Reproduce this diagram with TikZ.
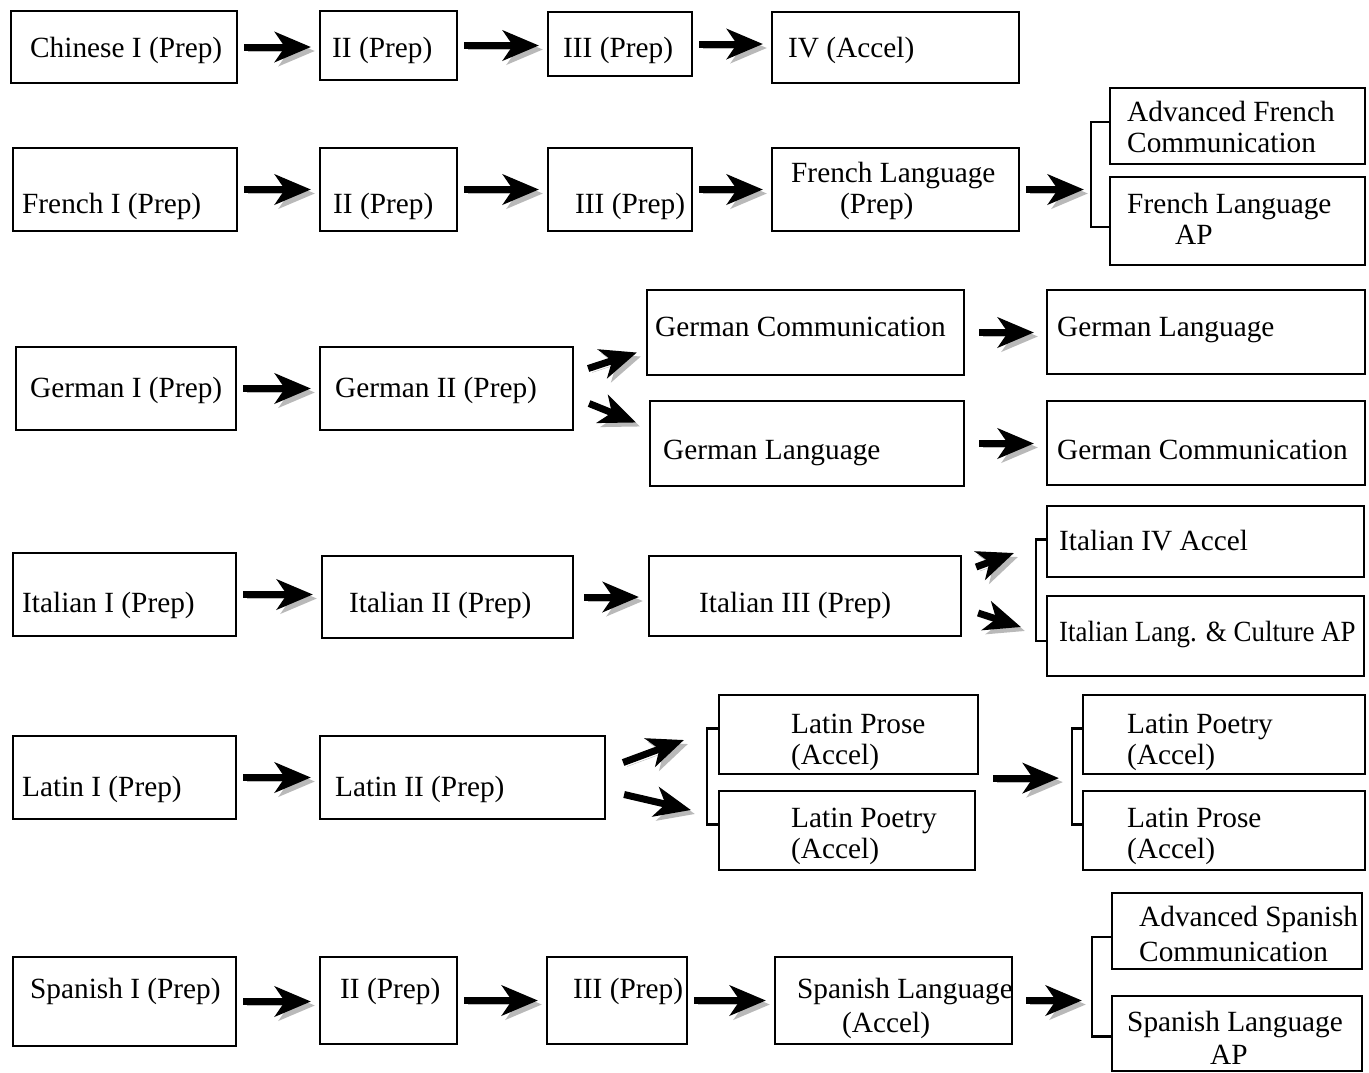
\documentclass[tikz,border=0pt]{standalone}
\usepackage{fontspec}
\setmainfont{Liberation Serif}
\usepackage{graphicx}
\usetikzlibrary{arrows.meta}
\begin{document}
\begin{tikzpicture}[x=1pt, y=-1pt,
  box/.style={draw, line width=2.2pt, inner sep=0pt},
  txt/.style={anchor=base west, inner sep=0pt, font=\fontsize{29.3}{31}\selectfont},
  flow/.style={line width=7pt, -{Stealth[length=36pt, width=30pt, inset=10pt]},
    shorten <=6pt, shorten >=8pt,
    preaction={draw=gray!55, transform canvas={shift={(4pt,-4pt)}}}},
  brace/.style={line width=2.8pt}]

  \useasboundingbox (0,0) rectangle (1369,1072);

  % Chinese row
  \node[box, minimum width=226pt, minimum height=72pt] (C1) at (124,47) {};
  \node[box, minimum width=137pt, minimum height=69pt] (C2) at (388.5,45.5) {};
  \node[box, minimum width=144pt, minimum height=64pt] (C3) at (620,44) {};
  \node[box, minimum width=247pt, minimum height=71pt] (C4) at (895.5,47.5) {};
  \node[txt] (C1t) at (30,57) {Chinese I (Prep)};
  \node[txt] (C2t) at (332,57) {II (Prep)};
  \node[txt] (C3t) at (563,57) {III (Prep)};
  \node[txt] (C4t) at (788,57) {IV (Accel)};

  % French row
  \node[box, minimum width=224pt, minimum height=83pt] (F1) at (125,189.5) {};
  \node[box, minimum width=137pt, minimum height=83pt] (F2) at (388.5,189.5) {};
  \node[box, minimum width=144pt, minimum height=83pt] (F3) at (620,189.5) {};
  \node[box, minimum width=247pt, minimum height=83pt] (F4) at (895.5,189.5) {};
  \node[box, minimum width=255pt, minimum height=76pt] (F5) at (1237.5,126) {};
  \node[box, minimum width=255pt, minimum height=88pt] (F6) at (1237.5,221) {};
  \node[txt] (F1t) at (22,213) {French I (Prep)};
  \node[txt] (F2t) at (333,213) {II (Prep)};
  \node[txt] (F3t) at (575,213) {III (Prep)};
  \node[txt] (F4t) at (791,182) {French Language};
  \node[txt] (F4u) at (840,213) {(Prep)};
  \node[txt] (F5t) at (1127,121) {Advanced French};
  \node[txt] (F5u) at (1127,152) {Communication};
  \node[txt] (F6t) at (1127,213) {French Language};
  \node[txt] (F6u) at (1175,244) {AP};

  % German row
  \node[box, minimum width=220pt, minimum height=83pt] (G1) at (126,388.5) {};
  \node[box, minimum width=253pt, minimum height=83pt] (G2) at (446.5,388.5) {};
  \node[box, minimum width=317pt, minimum height=85pt] (G3) at (805.5,332.5) {};
  \node[box, minimum width=314pt, minimum height=85pt] (G4) at (807,443.5) {};
  \node[box, minimum width=318pt, minimum height=84pt] (G5) at (1206,332) {};
  \node[box, minimum width=318pt, minimum height=84pt] (G6) at (1206,443) {};
  \node[txt] (G1t) at (30,397) {German I (Prep)};
  \node[txt] (G2t) at (335,397) {German II (Prep)};
  \node[txt] (G3t) at (655,336) {German Communication};
  \node[txt] (G4t) at (663,459) {German Language};
  \node[txt] (G5t) at (1057,336) {German Language};
  \node[txt] (G6t) at (1057,459) {German Communication};

  % Italian row
  \node[box, minimum width=223pt, minimum height=83pt] (I1) at (124.5,594.5) {};
  \node[box, minimum width=251pt, minimum height=82pt] (I2) at (447.5,597) {};
  \node[box, minimum width=312pt, minimum height=80pt] (I3) at (805,596) {};
  \node[box, minimum width=317pt, minimum height=71pt] (I4) at (1205.5,541.5) {};
  \node[box, minimum width=317pt, minimum height=80pt] (I5) at (1205.5,636) {};
  \node[txt] (I1t) at (22,612) {Italian I (Prep)};
  \node[txt] (I2t) at (349,612) {Italian II (Prep)};
  \node[txt] (I3t) at (699,612) {Italian III (Prep)};
  \node[txt] (I4t) at (1059,550) {Italian IV Accel};
  \node[txt] (I5t) at (1059,641) {\scalebox{0.92}[1]{Italian Lang. \& Culture AP}};

  % Latin row
  \node[box, minimum width=223pt, minimum height=83pt] (L1) at (124.5,777.5) {};
  \node[box, minimum width=285pt, minimum height=83pt] (L2) at (462.5,777.5) {};
  \node[box, minimum width=259pt, minimum height=79pt] (L3) at (848.5,734.5) {};
  \node[box, minimum width=256pt, minimum height=79pt] (L4) at (847,830.5) {};
  \node[box, minimum width=282pt, minimum height=79pt] (L5) at (1224,734.5) {};
  \node[box, minimum width=282pt, minimum height=79pt] (L6) at (1224,830.5) {};
  \node[txt] (L1t) at (22,796) {Latin I (Prep)};
  \node[txt] (L2t) at (335,796) {Latin II (Prep)};
  \node[txt] (L3t) at (791,733) {Latin Prose};
  \node[txt] (L3u) at (791,764) {(Accel)};
  \node[txt] (L4t) at (791,827) {Latin Poetry};
  \node[txt] (L4u) at (791,858) {(Accel)};
  \node[txt] (L5t) at (1127,733) {Latin Poetry};
  \node[txt] (L5u) at (1127,764) {(Accel)};
  \node[txt] (L6t) at (1127,827) {Latin Prose};
  \node[txt] (L6u) at (1127,858) {(Accel)};

  % Spanish row
  \node[box, minimum width=223pt, minimum height=89pt] (S1) at (124.5,1001.5) {};
  \node[box, minimum width=137pt, minimum height=87pt] (S2) at (388.5,1000.5) {};
  \node[box, minimum width=140pt, minimum height=87pt] (S3) at (617,1000.5) {};
  \node[box, minimum width=237pt, minimum height=87pt] (S4) at (893.5,1000.5) {};
  \node[box, minimum width=250pt, minimum height=76pt] (S5) at (1237,931) {};
  \node[box, minimum width=250pt, minimum height=75pt] (S6) at (1237,1033.5) {};
  \node[txt] (S1t) at (30,998) {Spanish I (Prep)};
  \node[txt] (S2t) at (340,998) {II (Prep)};
  \node[txt] (S3t) at (573,998) {III (Prep)};
  \node[txt] (S4t) at (797,998) {Spanish Language};
  \node[txt] (S4u) at (842,1032) {(Accel)};
  \node[txt] (S5t) at (1139,926) {Advanced Spanish};
  \node[txt] (S5u) at (1139,961) {Communication};
  \node[txt] (S6t) at (1127,1031) {Spanish Language};
  \node[txt] (S6u) at (1210,1064) {AP};

  % Brackets
  \draw[brace] ([yshift=4pt]F5.west) -- ++(-18,0) coordinate (Fb) |- ([yshift=-6pt]F6.west);
  \draw[brace] ([yshift=2pt]I4.west) -- ++(-10,0) coordinate (Ib) |- ([yshift=-5pt]I5.west);
  \draw[brace] ([yshift=6pt]L3.west) -- ++(-11,0) coordinate (Lb1) |- ([yshift=6pt]L4.west);
  \draw[brace] ([yshift=6pt]L5.west) -- ++(-10,0) coordinate (Lb2) |- ([yshift=6pt]L6.west);
  \draw[brace] ([yshift=-6pt]S5.west) -- ++(-19,0) coordinate (Sb) |- ([yshift=-3pt]S6.west);

  % Horizontal arrows
  \draw[flow] (C1.east) -- (C1.east -| C2.west);
  \draw[flow] (C2.east) -- (C2.east -| C3.west);
  \draw[flow] (C3.east) -- (C3.east -| C4.west);
  \draw[flow] (F1.east) -- (F1.east -| F2.west);
  \draw[flow] (F2.east) -- (F2.east -| F3.west);
  \draw[flow] (F3.east) -- (F3.east -| F4.west);
  \draw[flow, shorten >=7pt] (F4.east) -- (F4.east -| Fb);
  \draw[flow] (G1.east) -- (G1.east -| G2.west);
  \draw[flow, shorten <=14pt, shorten >=12pt] (G3.east) -- (G3.east -| G5.west);
  \draw[flow, shorten <=14pt, shorten >=12pt] (G4.east) -- (G4.east -| G6.west);
  \draw[flow] (I1.east) -- (I1.east -| I2.west);
  \draw[flow, shorten <=10pt, shorten >=9pt] (I2.east) -- (I2.east -| I3.west);
  \draw[flow] (L1.east) -- (L1.east -| L2.west);
  \coordinate (Lm) at ([yshift=-3pt]L3.south east);
  \draw[flow, shorten <=14pt, shorten >=13pt] (Lm) -- (Lm -| Lb2);
  \draw[flow] (S1.east) -- (S1.east -| S2.west);
  \draw[flow] (S2.east) -- (S2.east -| S3.west);
  \draw[flow] (S3.east) -- (S3.east -| S4.west);
  \draw[flow, shorten <=13pt, shorten >=10pt] (S4.east) -- (S4.east -| Sb);

  % Diagonal arrows
  \draw[flow, shorten <=0pt, shorten >=0pt] ([shift={(14,-20)}]G2.east) -- ([shift={(-9,20)}]G3.west);
  \draw[flow, shorten <=0pt, shorten >=0pt] ([shift={(15,15)}]G2.east) -- ([shift={(-13,-21)}]G4.west);
  \draw[flow, shorten <=0pt, shorten >=0pt] ([shift={(14,-29)}]I3.east) -- ([shift={(-32,11.5)}]I4.west);
  \draw[flow, shorten <=0pt, shorten >=0pt] ([shift={(16,17)}]I3.east) -- ([shift={(-25,-9)}]I5.west);
  \draw[flow, shorten <=0pt, shorten >=0pt] ([shift={(17,-15)}]L2.east) -- ([shift={(-34,5.5)}]L3.west);
  \draw[flow, shorten <=0pt, shorten >=0pt] ([shift={(18,17)}]L2.east) -- ([shift={(-27,-20.5)}]L4.west);

\end{tikzpicture}
\end{document}
